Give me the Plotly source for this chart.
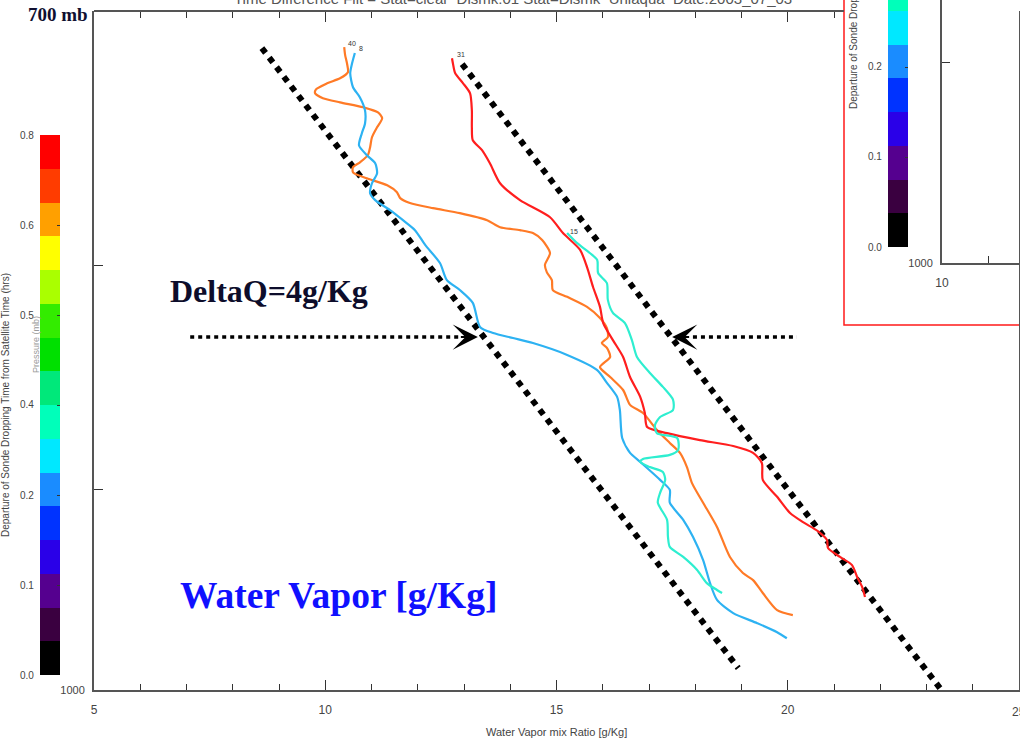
import math
import plotly.graph_objects as go

W, H = 1020, 740

# ---------------- data ----------------
# sonde profiles: water vapour mixing ratio q [g/kg] vs pressure p [mb]
orange_q = [10.41, 10.43, 10.47, 10.49, 10.32, 10.04, 9.80, 9.78, 9.95, 10.32, 10.82, 11.14, 11.23, 11.12, 11.01,
            10.97, 10.92, 10.75, 10.60, 10.60, 10.90, 11.34, 11.55, 11.62, 11.83, 12.33, 12.91, 13.50, 13.78, 14.21,
            14.49, 14.69, 14.86, 14.75, 14.79, 14.90, 14.92, 15.23, 15.66, 15.94, 16.09, 16.11, 15.98, 16.09, 16.16,
            15.94, 16.16, 16.44, 16.59, 16.87, 17.17, 17.45, 17.67, 17.82, 17.93, 18.17, 18.47, 18.75, 19.03, 19.25,
            19.46, 19.77, 20.11]
orange_p = [713.4, 716.4, 719.5, 722.9, 725.2, 727.1, 729.4, 730.9, 732.8, 734.4, 736.3, 738.3, 740.6, 744.1, 748.0,
            751.9, 755.1, 757.9, 759.9, 761.9, 764.3, 767.1, 769.9, 772.3, 774.3, 776.4, 778.4, 781.3, 784.2, 785.4,
            786.6, 789.5, 794.9, 799.9, 802.9, 806.3, 810.5, 813.4, 817.7, 822.5, 826.9, 830.8, 833.4, 835.5, 839.5,
            844.0, 848.4, 854.2, 860.9, 864.6, 872.3, 878.3, 882.9, 889.5, 897.0, 906.3, 917.9, 932.5, 940.4, 943.9,
            950.3, 958.9, 961.4]

blue_q = [10.64, 10.58, 10.54, 10.60, 10.75, 10.86, 10.86, 10.79, 10.73, 10.90, 11.08, 11.12, 11.01, 10.97, 11.08,
          11.40, 11.68, 11.94, 12.16, 12.48, 12.63, 12.91, 13.19, 13.35, 13.63, 14.06, 14.49, 15.23, 15.88, 16.09,
          16.31, 16.37, 16.42, 16.59, 16.81, 17.24, 17.45, 17.45, 17.74, 17.95, 18.17, 18.32, 18.47, 18.82, 19.34,
          19.77, 19.98]
blue_p = [715.6, 719.5, 723.3, 728.6, 732.5, 737.5, 742.6, 746.5, 751.2, 755.1, 758.3, 762.3, 766.3, 770.3, 773.1,
          777.2, 781.3, 785.4, 791.5, 799.1, 806.3, 810.5, 816.0, 826.5, 829.0, 831.2, 833.4, 838.6, 845.3, 851.0,
          857.3, 863.2, 876.0, 882.9, 887.1, 895.5, 900.2, 906.3, 914.5, 922.7, 934.0, 945.4, 953.8, 960.4, 965.5,
          970.1, 973.2]

red_q = [12.74, 12.76, 12.81, 12.98, 13.13, 13.17, 13.17, 13.19, 13.39, 13.56, 13.78, 14.21, 14.86, 15.14, 15.51,
         15.66, 15.79, 15.94, 16.01, 16.22, 16.44, 16.59, 16.81, 16.91, 16.96, 17.39, 18.10, 18.82, 19.25, 19.44,
         19.46, 19.77, 20.05, 20.33, 20.65, 20.85, 20.87, 21.13, 21.39, 21.50, 21.61, 21.67]
red_p = [717.6, 719.5, 723.3, 727.1, 730.9, 737.5, 744.1, 749.2, 753.1, 758.3, 766.3, 773.1, 780.1, 786.6, 793.6,
         800.8, 809.2, 817.7, 824.7, 832.1, 839.5, 848.4, 857.3, 864.6, 871.0, 873.8, 877.0, 879.7, 882.9, 887.6,
         895.5, 903.5, 911.2, 915.6, 919.9, 924.3, 928.1, 932.5, 936.5, 942.4, 947.4, 952.3]

turq_q = [15.23, 15.44, 15.72, 15.88, 15.90, 16.09, 16.11, 16.22, 16.48, 16.63, 16.74, 17.02, 17.30, 17.52, 17.52,
          17.24, 17.13, 17.17, 17.61, 17.63, 17.45, 16.87, 16.81, 17.02, 17.30, 17.35, 17.24, 17.19, 17.39, 17.41,
          17.45, 17.74, 18.04, 18.25, 18.47, 18.58]
turq_p = [786.6, 790.7, 794.9, 797.8, 803.3, 807.6, 814.7, 820.3, 824.7, 832.1, 839.5, 846.6, 852.8, 858.6, 863.2,
          866.4, 870.1, 873.8, 876.0, 881.5, 883.8, 885.7, 887.1, 889.5, 891.8, 895.5, 901.6, 906.3, 914.5, 922.7,
          927.6, 932.5, 938.9, 945.4, 948.8, 950.3]

sonde_ids = ["40", "8", "31", "15"]
sonde_times = [0.68, 0.22, 0.78, 0.37]   # departure from satellite time (hrs)
sonde_colors = ["#ff7a26", "#2db2f2", "#ff1e1e", "#2eeed0"]

# guide lines (DeltaQ = 4 g/kg envelope) and arrows
guide_left_q = [8.63, 18.93]
guide_left_p = [713.8, 988.6]
guide_right_q = [12.96, 23.29]
guide_right_p = [719.8, 999.0]
arrow_p = 830.8
arrow_left_q = [7.08, 12.90]
arrow_right_q = [17.95, 20.20]
arrow_left_tip = 13.30
arrow_right_tip = 17.50

# colour bar (16 discrete levels 0..0.8 hrs, bottom to top)
cbar_colors = ["#000000", "#3a0040", "#55008f", "#2a00e8", "#0033ff", "#1a8cff", "#00e8ff", "#00ffba",
               "#00e87a", "#00e000", "#33ec00", "#aaff00", "#ffff00", "#ffa000", "#ff3c00", "#ff0000"]
cbar_min, cbar_max = 0.0, 0.8
cbar_tickvals = [0.0, 0.8 / 6, 1.6 / 6, 0.4, 3.2 / 6, 4.0 / 6, 0.8]
cbar_ticktext = ["0.0", "0.1", "0.2", "0.4", "0.5", "0.6", "0.8"]

x_tickvals = [5, 10, 15, 20, 25]
y_tickvals = [800, 900, 1000]
y_ticktext = ["", "", "1000"]

# ---------------- helpers ----------------
def PX(x):
    return x / W


def PY(y):
    return 1 - y / H


n = len(cbar_colors)
colorscale = []
for i, c in enumerate(cbar_colors):
    colorscale.append([i / n, c])
    colorscale.append([(i + 1) / n, c])

AX = "#555555"
TXT = "#444444"
SANS = "Liberation Sans, Arial, sans-serif"
SERIF = "Liberation Serif, Times New Roman, serif"

fig = go.Figure()

# guides
for gq, gp in [(guide_left_q, guide_left_p), (guide_right_q, guide_right_p)]:
    fig.add_trace(go.Scatter(x=gq, y=gp, mode="lines", line=dict(color="black", width=6, dash="6px,6px"),
                             hoverinfo="skip"))
for aq in [arrow_left_q, arrow_right_q]:
    fig.add_trace(go.Scatter(x=aq, y=[arrow_p, arrow_p], mode="lines",
                             line=dict(color="black", width=3.5, dash="4px,4px"), hoverinfo="skip"))

# sonde profiles
profiles = [(orange_q, orange_p), (blue_q, blue_p), (red_q, red_p), (turq_q, turq_p)]
for (q, p), col, sid in zip(profiles, sonde_colors, sonde_ids):
    fig.add_trace(go.Scatter(x=q, y=p, mode="lines", name=sid,
                             line=dict(color=col, width=2.2, shape="spline", smoothing=0.7)))


def cbar(xpix, ybottom):
    return dict(x=PX(xpix), xanchor="left", xpad=0, y=PY(ybottom), yanchor="bottom", ypad=0,
                len=540, lenmode="pixels", thickness=20, thicknessmode="pixels",
                outlinewidth=0, borderwidth=0, showticklabels=False, tickmode="array",
                tickvals=cbar_tickvals, ticks="inside", ticklen=3, tickcolor="#333")


# main colour bar attached to the sonde start points (invisible markers)
fig.add_trace(go.Scatter(x=[orange_q[0], blue_q[0], red_q[0], turq_q[0]],
                         y=[orange_p[0], blue_p[0], red_p[0], turq_p[0]], mode="markers",
                         marker=dict(color=sonde_times, colorscale=colorscale, cmin=cbar_min, cmax=cbar_max,
                                     opacity=0, size=1, showscale=True, colorbar=cbar(40, 675)),
                         hoverinfo="skip"))
# top mirrored axis
fig.add_trace(go.Scatter(x=[None], y=[None], xaxis="x4", yaxis="y", hoverinfo="skip"))
# inset panel with its own colour bar
fig.add_trace(go.Scatter(x=[10.5], y=[950], xaxis="x3", yaxis="y3", mode="markers",
                         marker=dict(color=[0.1], colorscale=colorscale, cmin=cbar_min, cmax=cbar_max,
                                     opacity=0, size=1, showscale=True, colorbar=cbar(888, 247)),
                         hoverinfo="skip"))

tickstyle = dict(ticks="inside", tickcolor="#333", tickwidth=1.3, showgrid=False, zeroline=False,
                 showline=True, linecolor=AX, linewidth=2)

fig.update_layout(
    width=W, height=H,
    margin=dict(l=0, r=0, t=0, b=0, autoexpand=False),
    paper_bgcolor="white", plot_bgcolor="rgba(0,0,0,0)", showlegend=False,
    xaxis=dict(domain=[PX(94), PX(1019)], range=[5, 25], anchor="y", tickmode="array", tickvals=x_tickvals,
               ticklen=10, minor=dict(dtick=1, tick0=5, ticks="inside", ticklen=6, tickcolor="#333", tickwidth=1.2),
               tickfont=dict(family=SANS, size=12, color=TXT), ticklabelstandoff=8, mirror=False, **tickstyle),
    xaxis4=dict(domain=[PX(94), PX(844)], range=[5, 5 + 750 / 46.25], anchor="free", position=PY(11), side="top",
                tickmode="linear", tick0=5, dtick=5, ticklen=10, showticklabels=False,
                minor=dict(dtick=1, ticks="inside", ticklen=6, tickcolor="#333", tickwidth=1.2), **tickstyle),
    yaxis=dict(domain=[PY(690), PY(11)], type="log", range=[3, math.log10(700)], anchor="x",
               tickmode="array", tickvals=y_tickvals, ticktext=y_ticktext, ticklen=9, mirror=True,
               tickfont=dict(family=SANS, size=11, color=TXT), ticklabelstandoff=5, **tickstyle),
    xaxis3=dict(domain=[PX(942), 1], range=[10, 10 + 78 / 46.25], anchor="y3", tickmode="array",
                tickvals=[10, 11], ticktext=["10", ""], ticklen=7,
                tickfont=dict(family=SANS, size=12, color=TXT), ticklabelstandoff=8, **tickstyle),
    yaxis3=dict(domain=[PY(263), 1], type="log", range=[3, math.log10(870.9)], anchor="x3",
                tickmode="array", tickvals=[900, 1000], ticktext=["", "1000"], ticklen=8,
                tickfont=dict(family=SANS, size=11, color=TXT), ticklabelstandoff=5, **tickstyle),
)

# inset frame
fig.add_shape(type="rect", xref="paper", yref="paper", x0=PX(844), x1=PX(1040), y0=PY(325), y1=PY(-10),
              line=dict(color="#ff1a1a", width=1.5), fillcolor="white", layer="below")


def note(xp, yp, text, size, color, family=SANS, angle=0):
    return dict(x=PX(xp), y=PY(yp), xref="paper", yref="paper", text=text, showarrow=False,
                xanchor="center", yanchor="middle", textangle=angle,
                font=dict(family=family, size=size, color=color))


ann = []
# colour bar labels and titles (main + inset copy)
for dx, dy, top_clip in [(0, 0, -1e9), (848, -428, 0)]:
    for v, t in zip(cbar_tickvals, cbar_ticktext):
        ypix = 675 + dy - (v - cbar_min) / (cbar_max - cbar_min) * 540
        if ypix < top_clip + 4:
            continue
        a = note(36 + dx, ypix, t, 10, TXT)
        a["xanchor"] = "right"
        ann.append(a)
    ann.append(note(6 + dx, 405 + dy, "Departure of Sonde Dropping Time from Satellite Time (hrs)", 10, TXT,
                    angle=-90))

ann += [
    note(36, 345, "Pressure (mb)", 9, "#999", angle=-90),
    note(513, -2, "Time Difference Filt = Stat=clear  Dismk:01 Stat=Dismk  Uniaqua  Date:2003_07_03", 15, "#555"),
    note(1019, 712, "25", 12, TXT),
    note(556, 732, "Water Vapor mix Ratio [g/Kg]", 11, TXT),
    note(58, 14, "<b>700 mb</b>", 19, "#101030", SERIF),
    note(269, 291, "<b>DeltaQ=4g/Kg</b>", 32, "#0d0d2b", SERIF),
    note(338, 595, "<b>Water Vapor [g/Kg]</b>", 37.5, "#1010ff", SERIF),
]

# arrow heads
for tip, back in [(arrow_left_tip, arrow_left_tip - 0.4), (arrow_right_tip, arrow_right_tip + 0.4)]:
    ann.append(dict(x=tip, y=math.log10(arrow_p), ax=back, ay=math.log10(arrow_p), xref="x", yref="y",
                    axref="x", ayref="y", text="", showarrow=True, arrowhead=3, arrowsize=2.1, arrowwidth=2,
                    arrowcolor="black", standoff=0))

# sonde id labels at profile tops
label_pos = [(10.58, 712.0), (10.78, 714.0), (12.94, 716.0), (15.38, 785.8)]
for sid, (lq, lp) in zip(sonde_ids, label_pos):
    ann.append(dict(x=lq, y=math.log10(lp), xref="x", yref="y", text=sid, showarrow=False,
                    font=dict(family=SANS, size=7, color="#333")))

fig.update_layout(annotations=ann)
fig.write_html("out.html", config={"displayModeBar": False},
               post_script="document.body.style.margin='0';document.body.style.overflow='hidden';")
